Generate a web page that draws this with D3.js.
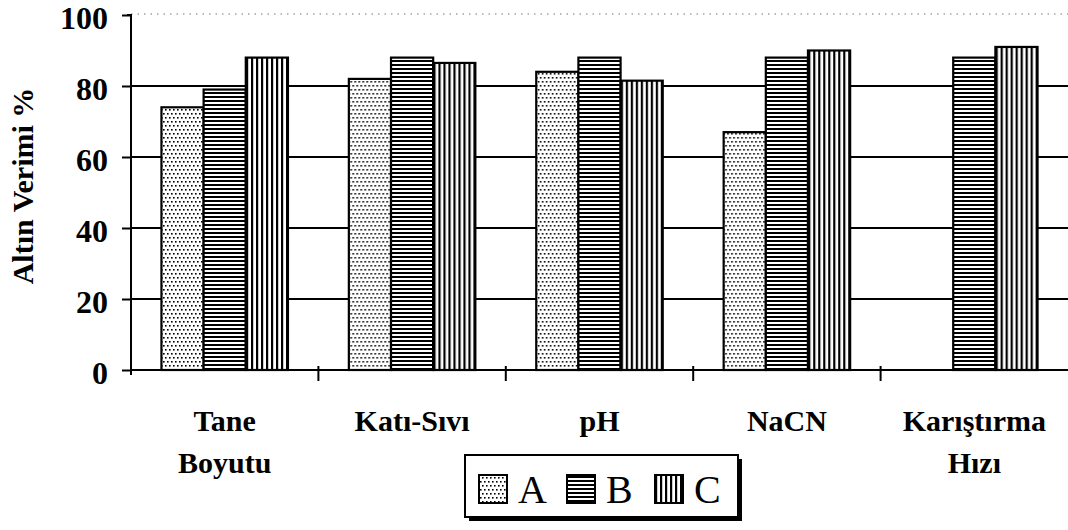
<!DOCTYPE html>
<html><head><meta charset="utf-8">
<script src="https://cdnjs.cloudflare.com/ajax/libs/d3/7.8.5/d3.min.js"></script>
<style>body{margin:0;background:#fff}svg{display:block}
svg text{font-family:"Liberation Serif",serif;}
</style>
</head><body>
<svg id="chart" width="1068" height="530"></svg>
<script>
const categories = [["Tane","Boyutu"],["Katı-Sıvı"],["pH"],["NaCN"],["Karıştırma","Hızı"]];
const series = ["A","B","C"];
const valuesA = [74, 82, 84, 67, null];
const valuesB = [79, 88, 88, 88, 88];
const valuesC = [88, 86.5, 81.5, 90, 91];
const yTicks = [0, 20, 40, 60, 80, 100];
const yLabel = "Altın Verimi %";

(function(){
const svg = d3.select("#chart");
const font = '"Liberation Serif",serif';
const defs = svg.append("defs");
// A: stipple
const pA = defs.append("pattern").attr("id","pA").attr("patternUnits","userSpaceOnUse").attr("width",4).attr("height",8);
pA.append("rect").attr("width",4).attr("height",8).attr("fill","#fff");
pA.append("rect").attr("x",0).attr("y",1).attr("width",1.6).attr("height",1.6).attr("fill","#000");
pA.append("rect").attr("x",2).attr("y",5).attr("width",1.6).attr("height",1.6).attr("fill","#000");
// B: horizontal stripes
const pB = defs.append("pattern").attr("id","pB").attr("patternUnits","userSpaceOnUse").attr("width",8).attr("height",4);
pB.append("rect").attr("width",8).attr("height",4).attr("fill","#fff");
pB.append("rect").attr("width",8).attr("height",2).attr("fill","#000");
// C: vertical stripes
const pC = defs.append("pattern").attr("id","pC").attr("patternUnits","userSpaceOnUse").attr("width",5).attr("height",8);
pC.append("rect").attr("width",5).attr("height",8).attr("fill","#fff");
pC.append("rect").attr("width",2.2).attr("height",8).attr("fill","#000");
const fills = {A:"url(#pA)", B:"url(#pB)", C:"url(#pC)"};

const mLeft = 131, mRight = 1068, mTop = 15, mBottom = 370;
const y = d3.scaleLinear().domain([0,100]).range([mBottom, mTop]);
const x0 = d3.scaleBand().domain(d3.range(categories.length)).range([mLeft, mRight]).padding(0);
const groupW = x0.bandwidth() * 0.675;
const x1 = d3.scaleBand().domain(series).range([(x0.bandwidth()-groupW)/2, (x0.bandwidth()+groupW)/2]).padding(0);

// top dotted line
svg.append("line").attr("x1",mLeft).attr("x2",mRight).attr("y1",y(100)-1).attr("y2",y(100)-1)
  .attr("stroke","#777").attr("stroke-width",1.2).attr("stroke-dasharray","1.5,5");

// gridlines
svg.append("g").selectAll("line").data(yTicks.filter(t=>t>0 && t<100)).join("line")
  .attr("x1",mLeft).attr("x2",mRight).attr("y1",d=>y(d)).attr("y2",d=>y(d))
  .attr("stroke","#000").attr("stroke-width",2);

// bars
const data = [valuesA, valuesB, valuesC];
categories.forEach((c,i)=>{
  const g = svg.append("g").attr("transform",`translate(${x0(i)},0)`);
  series.forEach((s,j)=>{
    const v = data[j][i];
    if (v == null) return;
    g.append("rect").attr("x",x1(s)).attr("y",y(v)).attr("width",x1.bandwidth()).attr("height",y(0)-y(v))
      .attr("fill",fills[s]).attr("stroke","#000").attr("stroke-width",2.2);
  });
});

// y axis
const yAxis = d3.axisLeft(y).tickValues(yTicks).tickSize(9).tickPadding(14).tickSizeOuter(0);
const ya = svg.append("g").attr("transform",`translate(${mLeft},0)`).call(yAxis);
ya.attr("font-family", null).attr("font-size", null);
ya.select(".domain").attr("stroke","#000").attr("stroke-width",2);
ya.selectAll(".tick line").attr("stroke","#000").attr("stroke-width",2);
ya.selectAll(".tick text").style("font-family",font).attr("font-weight","bold").attr("font-size",32).attr("fill","#000").attr("dy","0.42em");
ya.select(".domain").attr("d",`M0,${y(0)+5}V${y(100)}H-4`);

// x axis
svg.append("line").attr("x1",mLeft).attr("x2",mRight).attr("y1",mBottom).attr("y2",mBottom).attr("stroke","#000").attr("stroke-width",2);
svg.append("g").selectAll("line").data(d3.range(1,categories.length)).join("line")
  .attr("x1",d=>x0(d)).attr("x2",d=>x0(d)).attr("y1",mBottom-4).attr("y2",mBottom+11)
  .attr("stroke","#000").attr("stroke-width",2);

// category labels
const cl = svg.append("g").selectAll("text").data(categories).join("text")
  .style("font-family",font).attr("font-weight","bold").attr("font-size",30).attr("text-anchor","middle")
  .attr("transform",(d,i)=>`translate(${x0(i)+x0.bandwidth()/2},431)`);
cl.selectAll("tspan").data(d=>d).join("tspan").attr("x",0).attr("y",(d,k)=>k*42).text(d=>d);

// y label
svg.append("text").attr("transform","translate(33,186) rotate(-90)").attr("text-anchor","middle")
  .style("font-family",font).attr("font-weight","bold").attr("font-size",30).text(yLabel);

// legend
const lg = svg.append("g");
lg.append("rect").attr("x",469).attr("y",459).attr("width",273).attr("height",62).attr("fill","#000");
lg.append("rect").attr("x",465).attr("y",455).attr("width",273).attr("height",62).attr("fill","#fff").attr("stroke","#000").attr("stroke-width",2);
const legX = [479, 567, 655];
series.forEach((s,j)=>{
  lg.append("rect").attr("x",legX[j]).attr("y",475).attr("width",28).attr("height",28)
    .attr("fill",fills[s]).attr("stroke","#000").attr("stroke-width",2);
  lg.append("text").attr("x",legX[j]+39).attr("y",503).style("font-family",font).attr("font-size",40).text(s);
});
})();
</script>
</body></html>
